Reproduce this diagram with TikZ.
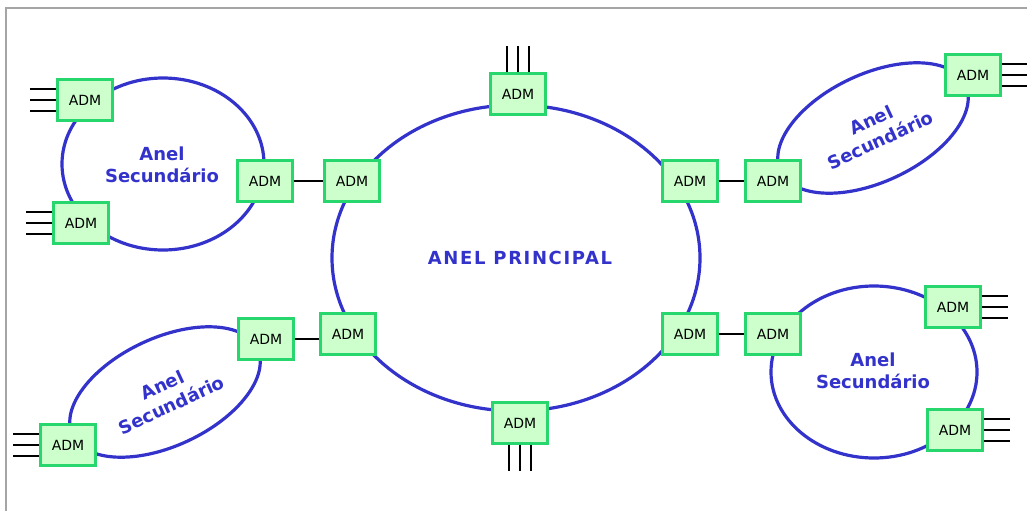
\documentclass[tikz,border=0pt]{standalone}
\usepackage{fontspec}
\setmainfont{DejaVu Sans}
\usetikzlibrary{calc}

\definecolor{ringblue}{RGB}{51,51,204}
\definecolor{admfill}{RGB}{204,255,204}
\definecolor{admline}{RGB}{40,214,110}
\definecolor{framegray}{RGB}{165,165,165}

\tikzset{
  adm/.style={draw=admline, line width=2.2pt, fill=admfill, minimum width=55pt,
    minimum height=41pt, inner sep=0pt, font=\fontsize{14}{14}\selectfont},
  ring/.style={draw=ringblue, line width=3.2pt},
  ringlabel/.style={text=ringblue, font=\fontsize{18}{22}\selectfont\bfseries, align=center},
  link/.style={line width=1.5pt, black}
}

\begin{document}
\begin{tikzpicture}[x=1pt,y=-1pt]
\useasboundingbox (0,0) rectangle (1027,511);
\draw[framegray, line width=2pt] (6,511) -- (6,8) -- (1027,8);

% rings
\draw[ring] (516,258) ellipse [x radius=184, y radius=153];
\draw[ring] (163,164) ellipse [x radius=101, y radius=86];
\draw[ring] (874,372) ellipse [x radius=103, y radius=86];
\draw[ring, rotate around={25:(165,392)}] (165,392) ellipse [x radius=102, y radius=54];
\draw[ring, rotate around={25:(873,128)}] (873,128) ellipse [x radius=102, y radius=54];

% ring labels
\node[ringlabel, font=\fontsize{18}{22}\selectfont\bfseries\addfontfeature{LetterSpace=9}]
  (lblmain) at (520,258) {ANEL PRINCIPAL};
\node[ringlabel] (lbla) at (162,165) {Anel\\Secundário};
\node[ringlabel] (lbld) at (873,371) {Anel\\Secundário};
\node[ringlabel, rotate=25] (lblb) at (167,395) {Anel\\Secundário};
\node[ringlabel, rotate=25] (lblc) at (876,130) {Anel\\Secundário};

% main ring
\node[adm] (mt) at (518,94) {ADM};
\node[adm] (mul) at (352,181) {ADM};
\node[adm] (mur) at (690,181) {ADM};
\node[adm] (mll) at (348,334) {ADM};
\node[adm] (mlr) at (690,334) {ADM};
\node[adm] (mb) at (520,423) {ADM};

% secondary rings
\node[adm] (a1) at (85,100) {ADM};
\node[adm] (a2) at (81,223) {ADM};
\node[adm] (a3) at (265,181) {ADM};
\node[adm] (b1) at (266,339) {ADM};
\node[adm] (b2) at (68,445) {ADM};
\node[adm] (c1) at (773,181) {ADM};
\node[adm] (c2) at (973,75) {ADM};
\node[adm] (d1) at (773,334) {ADM};
\node[adm] (d2) at (953,307) {ADM};
\node[adm] (d3) at (955,430) {ADM};

% links
\draw[link] (a3) -- (mul);
\draw[link] (b1) -- (b1 -| mll.west);
\draw[link] (mur) -- (c1);
\draw[link] (mlr) -- (d1);

% tributaries
\foreach \n in {a1,a2,b2}
  \foreach \d in {-11,0,11}
    \draw[link] ([yshift=\d]\n.west) -- ++(-26,0);
\foreach \n in {c2,d2,d3}
  \foreach \d in {-11,0,11}
    \draw[link] ([yshift=\d]\n.east) -- ++(26,0);
\foreach \d in {-11,0,11} {
  \draw[link] ([xshift=\d]mt.north) -- ++(0,-26);
  \draw[link] ([xshift=\d]mb.south) -- ++(0,26);
}
\end{tikzpicture}
\end{document}
